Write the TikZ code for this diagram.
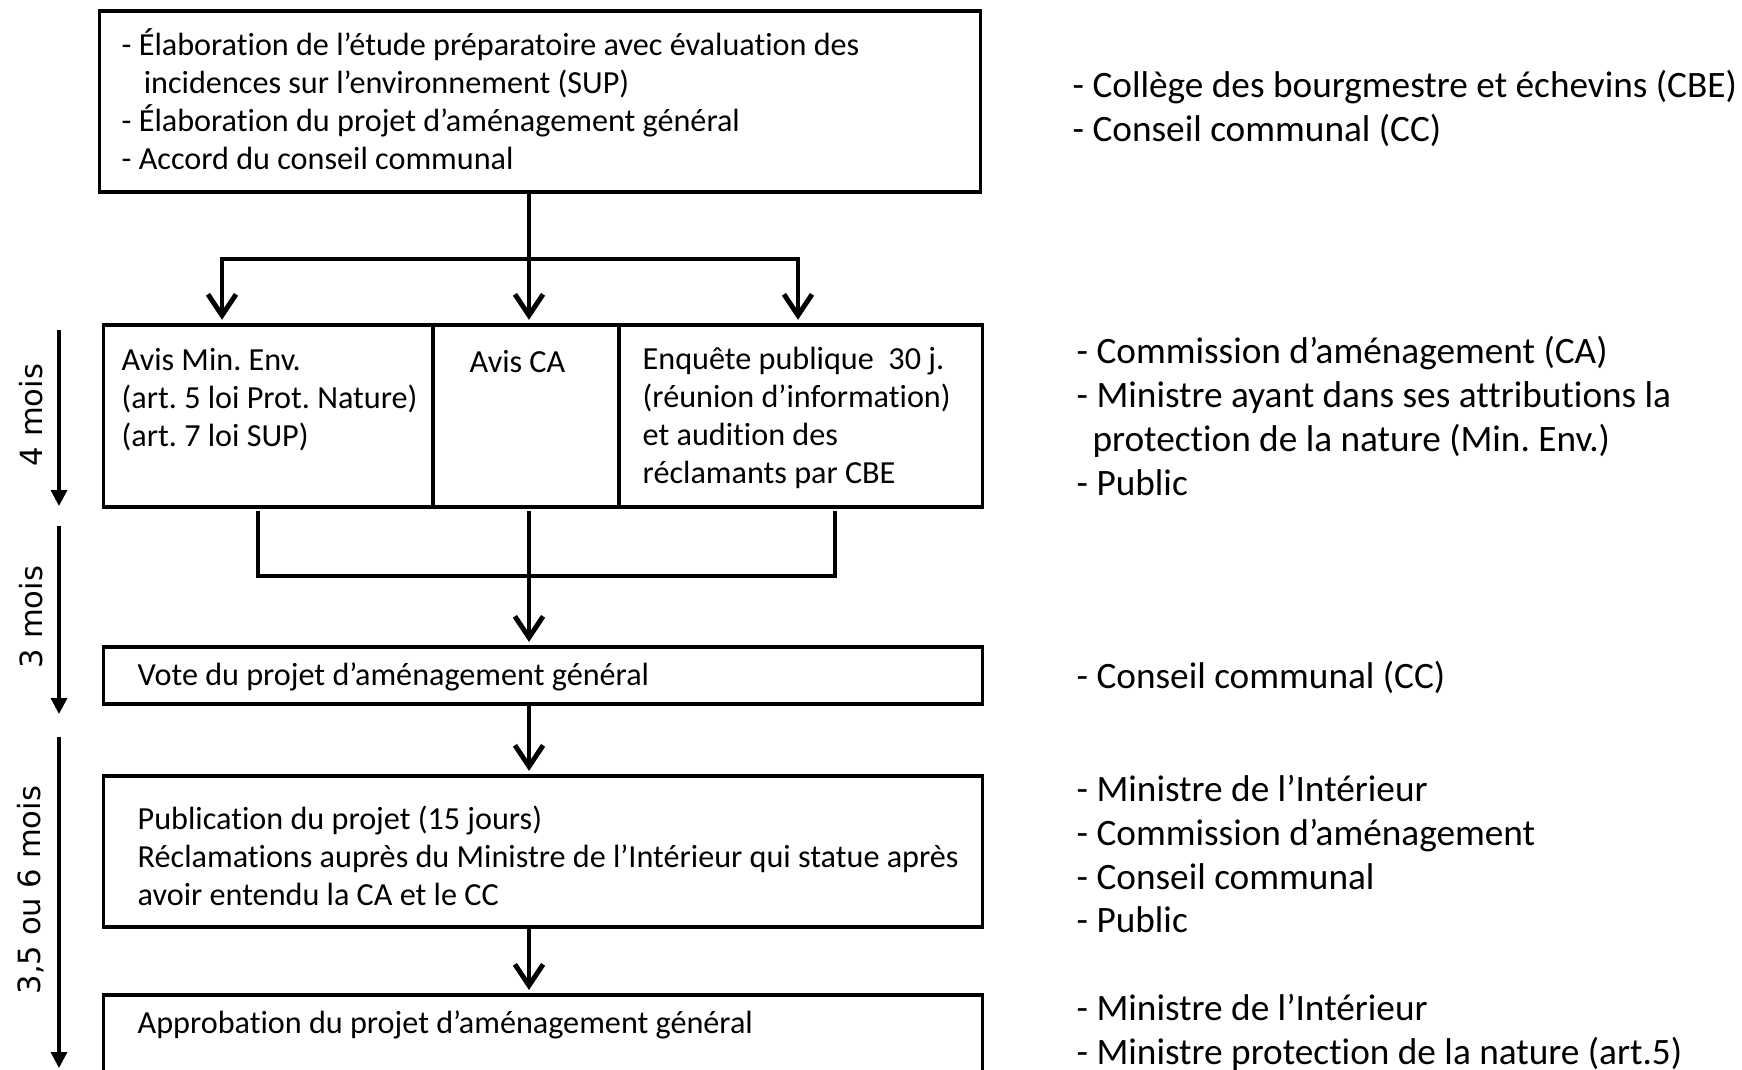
\documentclass[tikz,border=0pt]{standalone}
\usepackage{fontspec}
\setmainfont{Carlito}[Ligatures=NoCommon]
\newfontfamily\sidefont{DejaVu Sans}
\usetikzlibrary{arrows.meta, positioning, calc}
\frenchspacing

\tikzset{
  box/.style={draw, line width=0.9pt, inner sep=0pt},
  txt/.style={anchor=west, align=left, inner sep=0pt, font=\fontsize{9.15}{10.8}\selectfont},
  who/.style={anchor=west, align=left, inner sep=0pt, font=\fontsize{10.6}{12.5}\selectfont},
  link/.style={line width=1.4pt},
  flow/.style={line width=1.4pt, shorten >=1pt, -{Straight Barb[length=6pt, width=8pt]}},
  span/.style={line width=0.9pt, -{Triangle[length=4.5pt, width=4.5pt]}},
  dur/.style={rotate=90, inner sep=0pt, font=\sidefont\fontsize{8.7}{10}\selectfont}
}

\begin{document}
\begin{tikzpicture}[x=0.01cm, y=-0.01cm]
  \useasboundingbox (0,0) rectangle (1742,1069);
  \clip (0,0) rectangle (1742,1069);

  % boxes
  \node[box, minimum width=8.8cm, minimum height=1.81cm] (prep) at (540,101.5) {};
  \node[box, minimum width=3.29cm, minimum height=1.82cm] (env) at (268.5,416) {};
  \node[box, minimum width=1.86cm, minimum height=1.82cm] (ca) at (526,416) {};
  \node[box, minimum width=3.63cm, minimum height=1.82cm] (enq) at (800.5,416) {};
  \node[box, minimum width=8.78cm, minimum height=0.57cm] (vote) at (543,675.5) {};
  \node[box, minimum width=8.78cm, minimum height=1.51cm] (pub) at (543,851.5) {};
  \node[box, minimum width=8.78cm, minimum height=1.05cm] (appro) at (543,1047.5) {};

  % texts in the boxes
  \node[txt] (prepT) at (121,99) {- Élaboration de l’étude préparatoire avec évaluation des\\
    \hspace*{6.3pt}incidences sur l’environnement (SUP)\\
    - Élaboration du projet d’aménagement général\\
    - Accord du conseil communal};
  \node[txt] (envT) at (121,399.5) {Avis Min. Env.\\(art. 5 loi Prot. Nature)\\(art. 7 loi SUP)};
  \node[txt] (caT) at (469,362) {Avis CA};
  \node[txt] (enqT) at (642,418) {Enquête publique~~30 j.\\(réunion d’information)\\et audition des\\réclamants par CBE};
  \node[txt] (voteT) at (137,677) {Vote du projet d’aménagement général};
  \node[txt] (pubT) at (137,856) {Publication du projet (15 jours)\\
    Réclamations auprès du Ministre de l’Intérieur qui statue après\\
    avoir entendu la CA et le CC};
  \node[txt] (approT) at (137,1025) {Approbation du projet d’aménagement général};

  % who is involved
  \node[who] (whoA) at (1072,108) {- Collège des bourgmestre et échevins (CBE)\\- Conseil communal (CC)};
  \node[who] (whoB) at (1076,416) {- Commission d’aménagement (CA)\\
    - Ministre ayant dans ses attributions la\\
    \hspace*{4.5pt}protection de la nature (Min. Env.)\\
    - Public};
  \node[who] (whoC) at (1076,677) {- Conseil communal (CC)};
  \node[who] (whoD) at (1076,854) {- Ministre de l’Intérieur\\- Commission d’aménagement\\- Conseil communal\\- Public};
  \node[who] (whoE) at (1076,1032) {- Ministre de l’Intérieur\\- Ministre protection de la nature (art.5)};

  % durations
  \coordinate (s1a) at (59,330);
  \coordinate (s1b) at (59,506);
  \coordinate (s2a) at (59,526);
  \coordinate (s2b) at (59,714);
  \coordinate (s3a) at (59,737);
  \coordinate (s3b) at (59,1068);
  \draw[span] (s1a) -- (s1b);
  \draw[span] (s2a) -- (s2b);
  \draw[span] (s3a) -- (s3b);
  \node[dur] (d1) at (31,415) {4 mois};
  \node[dur] (d2) at (31,617) {3 mois};
  \node[dur] (d3) at (31,890) {3,5 ou 6 mois};

  % split to the three opinions
  \coordinate (fork) at (529,259);
  \coordinate (forkA) at (222,259);
  \coordinate (forkC) at (798,259);
  \draw[link] (prep.south -| fork) -- (fork);
  \draw[flow] (fork) -| (forkA |- env.north);
  \draw[flow] (fork) -- (fork |- ca.north);
  \draw[flow] (fork) -| (forkC |- enq.north);

  % merge and go on
  \coordinate (mA) at (258,511);
  \coordinate (mC) at (835,511);
  \coordinate (merge) at (529,576);
  \draw[link] (mA) |- (merge) -| (mC);
  \draw[flow] (merge |- mA) -- (merge |- vote.north);
  \draw[flow] (vote.south -| merge) -- (pub.north -| merge);
  \draw[flow] (pub.south -| merge) -- (appro.north -| merge);
\end{tikzpicture}
\end{document}
